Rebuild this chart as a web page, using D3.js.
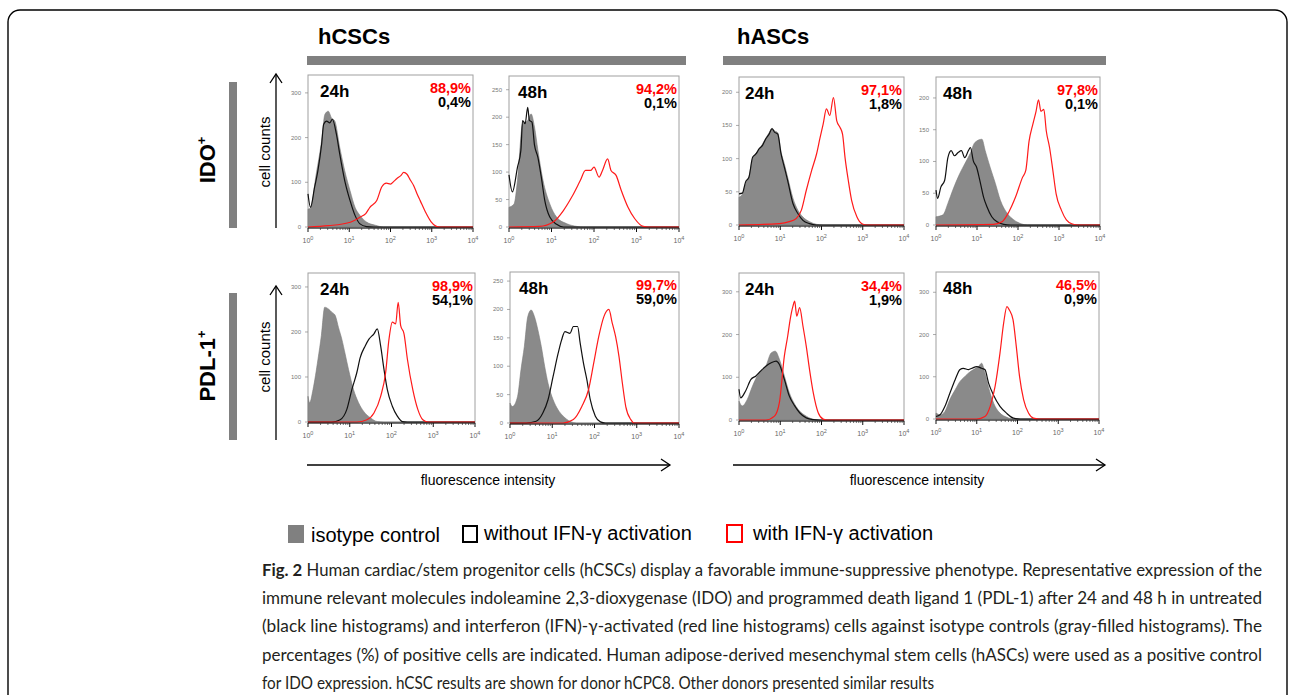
<!DOCTYPE html>
<html><head><meta charset="utf-8">
<script src="https://cdn.jsdelivr.net/npm/d3@7"></script>
<style>body{margin:0;background:#fff}svg{display:block}</style>
</head><body><svg id="c" width="1295" height="695"></svg>
<script>
// ---------------- DATA ----------------
// x = log10 fluorescence intensity, y = cell counts
const cellTypes = ["hCSCs", "hASCs"];
const markers = ["IDO", "PDL-1"];
const timeLabels = ["24h", "48h"];
const xTickExps = [0, 1, 2, 3, 4];

// percentages of positive cells [with IFN-γ, without IFN-γ]
const pctIdoHcsc = [["88,9%", "0,4%"], ["94,2%", "0,1%"]];
const pctIdoHasc = [["97,1%", "1,8%"], ["97,8%", "0,1%"]];
const pctPdlHcsc = [["98,9%", "54,1%"], ["99,7%", "59,0%"]];
const pctPdlHasc = [["34,4%", "1,9%"], ["46,5%", "0,9%"]];

// y-axis ticks per panel
const yTicksA = [0, 100, 200, 300];
const yTicksB = [0, 50, 100, 150, 200, 250];
const yTicksC = [0, 50, 100, 150, 200];
const yMaxes = [340, 275, 223, 233, 331, 266, 344, 348];

// hCSC IDO 24h
const idoHcsc24Iso = [[0,40],[0.06,42],[0.2,119],[0.33,193],[0.41,252],[0.49,259],[0.57,244],[0.65,237],[0.77,178],[0.89,126],[1.02,81],[1.14,44],[1.26,26],[1.42,11],[1.63,4],[1.83,0],[4,0]];
const idoHcsc24Neg = [[0,74],[0.06,44],[0.16,89],[0.24,126],[0.33,185],[0.38,230],[0.45,237],[0.53,233],[0.59,241],[0.69,207],[0.77,163],[0.89,104],[1.02,59],[1.14,26],[1.26,7],[1.42,1],[1.59,0],[4,0]];
const idoHcsc24Ifn = [[0,0],[0.5,3],[1.0,10],[1.26,22],[1.4,30],[1.5,44],[1.67,60],[1.79,90],[1.9,98],[2.0,96],[2.08,102],[2.15,108],[2.25,115],[2.32,122],[2.4,118],[2.48,105],[2.56,93],[2.64,75],[2.72,59],[2.85,33],[2.98,12],[3.1,2],[3.2,0],[4,0]];
// hCSC IDO 48h
const idoHcsc48Iso = [[0,36],[0.12,42],[0.2,85],[0.32,188],[0.44,194],[0.52,206],[0.6,182],[0.68,140],[0.8,85],[0.96,42],[1.12,18],[1.36,6],[1.6,1],[1.76,0],[4,0]];
const idoHcsc48Neg = [[0,95],[0.08,64],[0.2,109],[0.28,140],[0.32,194],[0.38,188],[0.44,218],[0.48,194],[0.54,191],[0.6,149],[0.68,127],[0.76,91],[0.84,49],[0.96,18],[1.12,5],[1.28,0],[4,0]];
const idoHcsc48Ifn = [[0,0],[0.72,1],[1.04,9],[1.28,30],[1.48,55],[1.68,85],[1.8,103],[1.92,103],[2.0,109],[2.12,91],[2.2,103],[2.32,124],[2.4,103],[2.52,94],[2.64,67],[2.8,36],[2.96,15],[3.16,1],[3.28,0],[4,0]];
// hASC IDO 24h
const idoHasc24Iso = [[0,42],[0.08,46],[0.16,63],[0.24,72],[0.33,100],[0.41,108],[0.49,114],[0.57,122],[0.65,131],[0.73,139],[0.8,146],[0.86,142],[0.94,139],[1.02,110],[1.1,92],[1.18,72],[1.31,40],[1.43,22],[1.55,12],[1.71,5],[1.88,1],[2.04,0],[4,0]];
const idoHasc24Neg = [[0,47],[0.08,48],[0.16,65],[0.24,72],[0.33,102],[0.41,107],[0.49,115],[0.57,120],[0.65,130],[0.73,137],[0.8,145],[0.86,140],[0.94,137],[1.02,107],[1.1,87],[1.18,67],[1.31,32],[1.43,17],[1.55,7],[1.71,2],[1.88,0],[4,0]];
const idoHasc24Ifn = [[0,0],[0.98,2],[1.22,5],[1.39,10],[1.51,22],[1.63,52],[1.76,82],[1.88,107],[1.96,130],[2.04,152],[2.12,175],[2.2,165],[2.29,192],[2.37,157],[2.45,147],[2.51,137],[2.57,102],[2.65,67],[2.73,37],[2.86,12],[2.98,2],[3.1,0],[4,0]];
// hASC IDO 48h
const idoHasc48Iso = [[0,13],[0.17,16],[0.29,34],[0.41,55],[0.58,81],[0.7,96],[0.83,112],[0.95,130],[1.12,135],[1.2,117],[1.32,91],[1.45,65],[1.57,39],[1.74,18],[1.9,8],[2.07,2],[2.23,0],[4,0]];
const idoHasc48Neg = [[0,55],[0.04,42],[0.12,60],[0.21,70],[0.29,106],[0.37,117],[0.45,109],[0.54,114],[0.62,117],[0.7,106],[0.79,117],[0.84,122],[0.91,101],[0.99,91],[1.07,70],[1.16,44],[1.24,29],[1.36,13],[1.49,5],[1.65,1],[1.82,0],[4,0]];
const idoHasc48Ifn = [[0,0],[1.4,1],[1.61,5],[1.78,21],[1.94,44],[2.11,75],[2.19,86],[2.27,132],[2.36,158],[2.44,179],[2.5,197],[2.56,179],[2.63,182],[2.69,148],[2.77,122],[2.85,86],[2.93,49],[3.06,23],[3.18,8],[3.31,2],[3.47,0],[4,0]];
// hCSC PDL-1 24h
const pdlHcsc24Iso = [[0,57],[0.04,43],[0.12,72],[0.24,140],[0.32,192],[0.4,255],[0.49,251],[0.57,244],[0.65,237],[0.73,210],[0.81,184],[0.89,151],[0.97,117],[1.09,72],[1.21,43],[1.33,24],[1.5,9],[1.66,1],[1.82,0],[4,0]];
const pdlHcsc24Neg = [[0,0],[0.57,0],[0.77,5],[0.93,28],[1.05,72],[1.17,110],[1.25,143],[1.37,169],[1.46,184],[1.58,196],[1.66,207],[1.74,169],[1.82,117],[1.9,72],[2.02,35],[2.14,13],[2.26,1],[2.38,0],[4,0]];
const pdlHcsc24Ifn = [[0,0],[1.17,0],[1.41,5],[1.58,20],[1.74,57],[1.86,110],[1.94,184],[2.02,222],[2.1,218],[2.16,266],[2.22,214],[2.3,196],[2.38,140],[2.51,72],[2.63,28],[2.75,5],[2.87,0],[4,0]];
// hCSC PDL-1 48h
const pdlHcsc48Iso = [[0,35],[0.06,29],[0.18,47],[0.26,94],[0.34,135],[0.42,187],[0.5,199],[0.58,187],[0.66,164],[0.74,135],[0.82,100],[0.9,70],[1.02,41],[1.14,23],[1.26,12],[1.42,3],[1.58,0],[4,0]];
const pdlHcsc48Neg = [[0,0],[0.38,0],[0.62,3],[0.78,18],[0.9,41],[1.02,82],[1.14,123],[1.22,146],[1.3,161],[1.42,158],[1.5,170],[1.6,170],[1.66,141],[1.74,105],[1.82,76],[1.9,41],[2.02,12],[2.14,2],[2.26,0],[4,0]];
const pdlHcsc48Ifn = [[0,0],[1.26,0],[1.5,6],[1.7,29],[1.86,59],[1.98,105],[2.1,152],[2.22,187],[2.34,200],[2.42,176],[2.5,152],[2.58,117],[2.66,70],[2.74,29],[2.86,6],[2.94,0],[4,0]];
// hASC PDL-1 24h
const pdlHasc24Iso = [[0,44],[0.08,33],[0.2,48],[0.33,80],[0.49,111],[0.65,126],[0.78,157],[0.88,161],[0.98,142],[1.1,103],[1.22,64],[1.35,37],[1.47,21],[1.63,9],[1.84,1],[2.04,0],[4,0]];
const pdlHasc24Neg = [[0,72],[0.04,52],[0.16,68],[0.29,95],[0.41,103],[0.53,115],[0.65,126],[0.78,134],[0.9,138],[0.98,130],[1.1,95],[1.22,56],[1.35,33],[1.47,17],[1.63,5],[1.8,1],[1.96,0],[4,0]];
const pdlHasc24Ifn = [[0,0],[0.65,0],[0.86,9],[0.98,41],[1.1,150],[1.18,196],[1.24,235],[1.31,267],[1.35,278],[1.4,243],[1.47,263],[1.55,220],[1.63,173],[1.71,118],[1.8,64],[1.92,17],[2.04,2],[2.12,0],[4,0]];
// hASC PDL-1 48h
const pdlHasc48Iso = [[0,14],[0.1,10],[0.22,18],[0.34,46],[0.47,69],[0.59,89],[0.67,97],[0.8,109],[0.92,117],[1.04,124],[1.12,132],[1.2,109],[1.33,61],[1.45,30],[1.57,14],[1.74,4],[1.9,0],[4,0]];
const pdlHasc48Neg = [[0,6],[0.1,10],[0.22,30],[0.34,61],[0.47,93],[0.59,117],[0.67,120],[0.8,117],[0.88,120],[1.0,124],[1.12,120],[1.2,117],[1.29,85],[1.41,57],[1.57,30],[1.74,13],[1.9,2],[2.07,0],[4,0]];
const pdlHasc48Ifn = [[0,0],[1.0,0],[1.2,6],[1.33,30],[1.45,77],[1.57,156],[1.66,227],[1.74,266],[1.8,258],[1.89,235],[1.97,172],[2.05,101],[2.15,46],[2.27,14],[2.39,2],[2.52,0],[4,0]];

const legendLabels = ["isotype control", "without IFN-γ activation", "with IFN-γ activation"];
const axisLabelX = "fluorescence intensity";
const axisLabelY = "cell counts";
const captionLines = [
  " Human cardiac/stem progenitor cells (hCSCs) display a favorable immune-suppressive phenotype. Representative expression of the",
  "immune relevant molecules indoleamine 2,3-dioxygenase (IDO) and programmed death ligand 1 (PDL-1) after 24 and 48 h in untreated",
  "(black line histograms) and interferon (IFN)-γ-activated (red line histograms) cells against isotype controls (gray-filled histograms). The",
  "percentages (%) of positive cells are indicated. Human adipose-derived mesenchymal stem cells (hASCs) were used as a positive control",
  "for IDO expression. hCSC results are shown for donor hCPC8. Other donors presented similar results"
];

// ---------------- LAYOUT ----------------
const panels = [
  {box:[308,75,473,228], t:0, pct:pctIdoHcsc[0], yt:yTicksA, iso:idoHcsc24Iso, neg:idoHcsc24Neg, ifn:idoHcsc24Ifn, tx:12},
  {box:[509,76,679,228], t:1, pct:pctIdoHcsc[1], yt:yTicksB, iso:idoHcsc48Iso, neg:idoHcsc48Neg, ifn:idoHcsc48Ifn, tx:9},
  {box:[739,77,904,226], t:0, pct:pctIdoHasc[0], yt:yTicksC, iso:idoHasc24Iso, neg:idoHasc24Neg, ifn:idoHasc24Ifn, tx:6},
  {box:[936,77,1100,226], t:1, pct:pctIdoHasc[1], yt:yTicksC, iso:idoHasc48Iso, neg:idoHasc48Neg, ifn:idoHasc48Ifn, tx:7},
  {box:[308,273,475,423], t:0, pct:pctPdlHcsc[0], yt:yTicksA, iso:pdlHcsc24Iso, neg:pdlHcsc24Neg, ifn:pdlHcsc24Ifn, tx:12},
  {box:[510,272,679,424], t:1, pct:pctPdlHcsc[1], yt:yTicksB, iso:pdlHcsc48Iso, neg:pdlHcsc48Neg, ifn:pdlHcsc48Ifn, tx:9},
  {box:[739,273,904,421], t:0, pct:pctPdlHasc[0], yt:yTicksA, iso:pdlHasc24Iso, neg:pdlHasc24Neg, ifn:pdlHasc24Ifn, tx:6},
  {box:[936,272,1099,420], t:1, pct:pctPdlHasc[1], yt:yTicksA, iso:pdlHasc48Iso, neg:pdlHasc48Neg, ifn:pdlHasc48Ifn, tx:7}
];

const svg = d3.select("#c");
const ARIAL = "'Liberation Sans', Arial, sans-serif";

// outer frame
svg.append("rect").attr("x",8).attr("y",10).attr("width",1279).attr("height",720)
  .attr("rx",12).attr("fill","none").attr("stroke","#000").attr("stroke-width",1.4);

// headers
[[318,307,686],[737,723,1106]].forEach((h,i)=>{
  svg.append("text").attr("x",h[0]).attr("y",44).text(cellTypes[i])
    .attr("font-family",ARIAL).attr("font-weight","bold").attr("font-size",22).attr("fill","#000");
  svg.append("rect").attr("x",h[1]).attr("y",56).attr("width",h[2]-h[1]).attr("height",9).attr("fill","#808080");
});

// row labels
[[160,82,228,markers[0]],[366,293,440,markers[1]]].forEach((r,i)=>{
  svg.append("rect").attr("x",229).attr("y",r[1]).attr("width",8).attr("height",r[2]-r[1]).attr("fill","#808080");
  const t = svg.append("text").attr("transform",`translate(215,${r[0]}) rotate(-90)`)
    .attr("text-anchor","middle").attr("font-family",ARIAL).attr("font-weight","bold")
    .attr("font-size",22).attr("fill","#000");
  t.append("tspan").text(r[3]);
  t.append("tspan").attr("dy",-9).attr("font-size",13).text("+");
  svg.append("text").attr("transform",`translate(270,${i?357:152}) rotate(-90)`)
    .attr("text-anchor","middle").attr("font-family",ARIAL).attr("font-size",15).attr("fill","#000").text(axisLabelY);
});
const arrowG = svg.append("g").attr("stroke","#000").attr("stroke-width",1.3).attr("fill","none");
[[228,74],[440,286]].forEach(a=>{
  arrowG.append("line").attr("x1",276).attr("x2",276).attr("y1",a[0]).attr("y2",a[1]);
  arrowG.append("path").attr("d",`M270,${a[1]+9}L276,${a[1]}L282,${a[1]+9}`);
});
[[307,670,488],[733,1105,917]].forEach(a=>{
  arrowG.append("line").attr("x1",a[0]).attr("x2",a[1]).attr("y1",465).attr("y2",465);
  arrowG.append("path").attr("d",`M${a[1]-9},459L${a[1]},465L${a[1]-9},471`);
  svg.append("text").attr("x",a[2]).attr("y",485).attr("text-anchor","middle")
    .attr("font-family",ARIAL).attr("font-size",14).attr("fill","#000").text(axisLabelX);
});

// panels
panels.forEach((p,pi)=>{
  const [x0,y0,x1,y1] = p.box;
  const x = d3.scaleLinear().domain([0,4]).range([x0,x1]);
  const y = d3.scaleLinear().domain([0,yMaxes[pi]]).range([y1-1,y0]);
  const g = svg.append("g");
  g.append("rect").attr("x",x0).attr("y",y0).attr("width",x1-x0).attr("height",y1-y0)
    .attr("fill","#fff").attr("stroke","#a0a0a0").attr("stroke-width",1);
  const area = d3.area().x(d=>x(d[0])).y0(y(0)).y1(d=>y(d[1])).curve(d3.curveMonotoneX);
  const line = d3.line().x(d=>x(d[0])).y(d=>y(d[1])).curve(d3.curveMonotoneX);
  g.append("path").attr("d",area(p.iso)).attr("fill","#8a8a8a").attr("stroke","#7a7a7a").attr("stroke-width",0.6);
  g.append("path").attr("d",line(p.neg)).attr("fill","none").attr("stroke","#111").attr("stroke-width",1.2);
  g.append("path").attr("d",line(p.ifn)).attr("fill","none").attr("stroke","#ff1a1a").attr("stroke-width",1.2);

  const ax = g.append("g").attr("transform",`translate(0,${y1})`);
  ax.append("line").attr("x1",x0).attr("x2",x1).attr("stroke","#111").attr("stroke-width",1);
  xTickExps.forEach(e=>{
    ax.append("line").attr("x1",x(e)).attr("x2",x(e)).attr("y1",0).attr("y2",4).attr("stroke","#111");
    if (e<4) d3.range(2,10).forEach(m=>{
      const lx = x(e+Math.log10(m));
      ax.append("line").attr("x1",lx).attr("x2",lx).attr("y1",0).attr("y2",2).attr("stroke","#333").attr("stroke-width",0.7);
    });
    const tl = ax.append("text").attr("x",x(e)).attr("y",15).attr("text-anchor","middle")
      .attr("font-family",ARIAL).attr("font-size",7).attr("fill","#666");
    tl.append("tspan").text("10");
    tl.append("tspan").attr("dy",-3).attr("font-size",5.5).text(e);
  });
  const ay = g.append("g").attr("transform",`translate(${x0},0)`);
  p.yt.forEach(v=>{
    ay.append("line").attr("x1",-3).attr("x2",0).attr("y1",y(v)).attr("y2",y(v)).attr("stroke","#888").attr("stroke-width",0.7);
    ay.append("text").attr("x",-7).attr("y",y(v)+2).attr("text-anchor","end")
      .attr("font-family",ARIAL).attr("font-size",6).attr("fill","#777").text(v);
  });
  g.append("text").attr("x",x0+p.tx).attr("y",y0+22).text(timeLabels[p.t])
    .attr("font-family",ARIAL).attr("font-weight","bold").attr("font-size",17).attr("fill","#000");
  g.append("text").attr("x",x1-2).attr("y",y0+18).attr("text-anchor","end").text(p.pct[0])
    .attr("font-family",ARIAL).attr("font-weight","bold").attr("font-size",14.5).attr("fill","#ff0000");
  g.append("text").attr("x",x1-2).attr("y",y0+32).attr("text-anchor","end").text(p.pct[1])
    .attr("font-family",ARIAL).attr("font-weight","bold").attr("font-size",14.5).attr("fill","#000");
});

// legend
const lg = svg.append("g");
lg.append("rect").attr("x",288).attr("y",525).attr("width",16).attr("height",18).attr("fill","#808080");
lg.append("text").attr("x",311).attr("y",542).text(legendLabels[0]).attr("font-family",ARIAL).attr("font-size",20);
lg.append("rect").attr("x",463).attr("y",526).attr("width",14).attr("height",16).attr("fill","none").attr("stroke","#000").attr("stroke-width",2);
lg.append("text").attr("x",484).attr("y",540).text(legendLabels[1]).attr("font-family",ARIAL).attr("font-size",20);
lg.append("rect").attr("x",727).attr("y",525).attr("width",15).attr("height",17).attr("fill","none").attr("stroke","#ff0000").attr("stroke-width",2);
lg.append("text").attr("x",753).attr("y",540).text(legendLabels[2]).attr("font-family",ARIAL).attr("font-size",20);

// caption
const capLens = [1000,1000,1000,1000,672];
const capBase = [576,604,632,661,689];
captionLines.forEach((l,i)=>{
  const t = svg.append("text").attr("x",262).attr("y",capBase[i])
    .attr("font-family","Lato, 'Noto Sans', sans-serif").attr("font-size",17).attr("fill","#231f20")
    .attr("textLength",capLens[i]).attr("lengthAdjust","spacingAndGlyphs");
  if (i===0) t.append("tspan").attr("font-weight","bold").text("Fig. 2");
  t.append("tspan").text(l);
});
</script></body></html>
